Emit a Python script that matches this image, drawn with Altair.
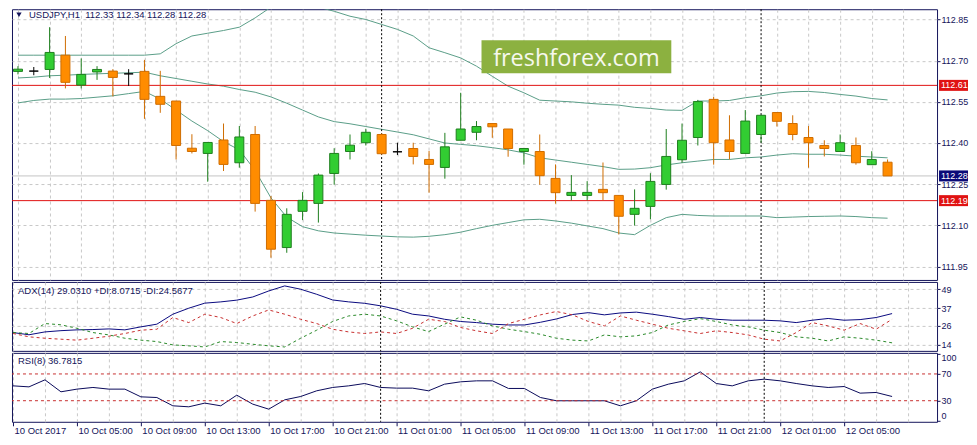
import altair as alt
import pandas as pd
import numpy as np

# ------------------------------------------------------------------ data
START = "2017-10-10 01:00"          # first H1 bar

opens = [112.661, 112.662, 112.668, 112.720, 112.611, 112.659, 112.662, 112.652, 112.661, 112.570,
         112.553, 112.381, 112.362, 112.411, 112.328, 112.431, 112.191, 112.019, 112.151, 112.180,
         112.289, 112.369, 112.401, 112.431, 112.368, 112.380, 112.340, 112.311, 112.410, 112.439,
         112.471, 112.451, 112.369, 112.369, 112.271, 112.209, 112.209, 112.231, 112.209, 112.140,
         112.169, 112.249, 112.339, 112.420, 112.559, 112.411, 112.362, 112.431, 112.511, 112.471,
         112.420, 112.391, 112.369, 112.391, 112.321, 112.330]
highs = [112.680, 112.677, 112.822, 112.790, 112.708, 112.680, 112.669, 112.669, 112.703, 112.663,
         112.553, 112.432, 112.402, 112.471, 112.462, 112.462, 112.207, 112.162, 112.221, 112.289,
         112.381, 112.431, 112.452, 112.435, 112.401, 112.401, 112.371, 112.437, 112.583, 112.480,
         112.471, 112.451, 112.380, 112.431, 112.322, 112.283, 112.261, 112.329, 112.209, 112.231,
         112.290, 112.451, 112.471, 112.557, 112.568, 112.501, 112.520, 112.501, 112.511, 112.501,
         112.462, 112.410, 112.431, 112.420, 112.370, 112.340]
lows = [112.650, 112.647, 112.637, 112.599, 112.599, 112.630, 112.570, 112.608, 112.488, 112.510,
        112.340, 112.362, 112.259, 112.298, 112.310, 112.150, 111.982, 112.000, 112.119, 112.110,
        112.248, 112.340, 112.391, 112.358, 112.356, 112.322, 112.219, 112.270, 112.410, 112.410,
        112.419, 112.350, 112.321, 112.248, 112.179, 112.191, 112.191, 112.191, 112.067, 112.099,
        112.122, 112.230, 112.328, 112.391, 112.321, 112.340, 112.362, 112.401, 112.460, 112.410,
        112.310, 112.351, 112.369, 112.321, 112.321, 112.280]
closes = [112.669, 112.662, 112.730, 112.621, 112.650, 112.668, 112.639, 112.652, 112.559, 112.541,
          112.391, 112.369, 112.402, 112.322, 112.422, 112.180, 112.013, 112.140, 112.191, 112.283,
          112.362, 112.392, 112.439, 112.361, 112.368, 112.351, 112.322, 112.386, 112.451, 112.460,
          112.459, 112.380, 112.380, 112.281, 112.219, 112.220, 112.220, 112.219, 112.133, 112.162,
          112.260, 112.351, 112.410, 112.551, 112.401, 112.369, 112.480, 112.501, 112.479, 112.431,
          112.401, 112.380, 112.401, 112.328, 112.340, 112.280]

bb_upper = [112.72, 112.72, 112.72, 112.72, 112.72, 112.72, 112.72, 112.72, 112.72, 112.725,
            112.762, 112.79, 112.80, 112.81, 112.822, 112.856, 112.895, 112.915, 112.91, 112.895,
            112.88, 112.862, 112.85, 112.832, 112.814, 112.79, 112.747, 112.729, 112.71, 112.68,
            112.643, 112.607, 112.583, 112.556, 112.553, 112.55, 112.545, 112.541, 112.538, 112.53,
            112.526, 112.52, 112.519, 112.553, 112.553, 112.555, 112.565, 112.572, 112.582, 112.587,
            112.588, 112.584, 112.577, 112.571, 112.562, 112.557]
bb_middle = [112.637, 112.64, 112.645, 112.647, 112.65, 112.652, 112.654, 112.656, 112.658, 112.645,
             112.635, 112.625, 112.615, 112.607, 112.595, 112.585, 112.568, 112.545, 112.52, 112.495,
             112.478, 112.47, 112.46, 112.45, 112.44, 112.43, 112.415, 112.40, 112.395, 112.39,
             112.383, 112.375, 112.364, 112.346, 112.338, 112.33, 112.322, 112.314, 112.304, 112.305,
             112.31, 112.32, 112.328, 112.334, 112.34, 112.34, 112.346, 112.349, 112.356, 112.361,
             112.359, 112.359, 112.356, 112.352, 112.349, 112.346]
bb_lower = [112.546, 112.555, 112.56, 112.56, 112.562, 112.567, 112.572, 112.58, 112.588, 112.56,
            112.52, 112.48, 112.445, 112.405, 112.375, 112.30, 112.20, 112.13, 112.095, 112.08,
            112.072, 112.068, 112.064, 112.061, 112.058, 112.057, 112.06, 112.066, 112.075, 112.088,
            112.10, 112.11, 112.12, 112.122, 112.116, 112.108, 112.098, 112.088, 112.072, 112.066,
            112.10, 112.128, 112.14, 112.136, 112.134, 112.134, 112.134, 112.134, 112.128, 112.13,
            112.132, 112.133, 112.134, 112.132, 112.128, 112.126]

adx_main = [21.6, 20.2, 22.0, 22.8, 23.3, 23.5, 23.9, 23.3, 25.2, 26.9,
            33.2, 37.0, 40.2, 41.0, 42.1, 44.1, 47.9, 51.1, 49.0, 45.8,
            42.2, 41.0, 40.1, 38.5, 36.3, 33.2, 32.1, 30.0, 28.6, 27.9,
            26.9, 26.4, 26.4, 28.1, 30.2, 33.0, 34.2, 32.8, 34.0, 34.5,
            33.2, 31.7, 30.0, 31.1, 30.0, 29.4, 29.4, 29.4, 29.0, 27.9,
            29.4, 30.5, 29.4, 29.8, 31.1, 33.6]
plus_di = [21.6, 21.0, 27.3, 26.5, 24.3, 21.6, 20.1, 18.0, 16.8, 15.9,
           13.8, 13.2, 12.5, 15.9, 15.3, 14.2, 13.2, 12.5, 18.0, 23.1,
           28.6, 32.1, 33.2, 32.1, 29.0, 25.2, 22.2, 26.9, 31.5, 29.4,
           25.8, 23.7, 22.2, 20.5, 18.0, 16.8, 16.3, 20.1, 18.9, 19.5,
           21.6, 26.4, 28.6, 30.4, 28.6, 26.4, 25.2, 23.1, 21.6, 18.9,
           18.0, 16.3, 18.9, 18.0, 16.8, 15.1]
minus_di = [21.0, 18.9, 18.0, 17.4, 16.8, 18.0, 19.3, 21.0, 23.1, 23.7,
            31.1, 27.9, 33.2, 31.1, 27.3, 32.1, 35.9, 33.2, 30.0, 27.3,
            23.7, 22.0, 21.0, 22.0, 21.0, 24.3, 30.0, 28.6, 24.8, 22.7,
            21.0, 27.3, 30.0, 32.8, 34.9, 32.8, 28.6, 25.8, 32.1, 29.4,
            26.9, 24.3, 22.7, 21.0, 22.7, 21.6, 20.1, 17.4, 16.3, 21.6,
            27.9, 25.8, 23.1, 27.3, 23.7, 30.0]
rsi_vals = [52.2, 50.7, 61.2, 43.3, 47.3, 49.8, 47.3, 47.3, 35.8, 34.8,
            22.4, 20.9, 26.4, 22.4, 38.3, 24.9, 17.4, 31.3, 36.3, 44.8,
            49.8, 52.2, 55.7, 49.8, 48.8, 48.8, 44.8, 54.7, 58.2, 59.7,
            59.7, 48.3, 48.3, 34.8, 29.9, 29.9, 29.9, 29.9, 22.4, 29.9,
            47.3, 54.7, 59.7, 73.1, 55.7, 52.2, 59.7, 62.2, 59.7, 55.7,
            52.2, 49.8, 51.2, 41.3, 42.3, 36.3]

level_prices = [112.61, 112.19]
rsi_levels = [30, 70]
day_starts = ["2017-10-11T00:00:00Z", "2017-10-12T00:00:00Z"]
price_ticks = [111.95, 112.10, 112.25, 112.40, 112.55, 112.70, 112.85]
adx_ticks = [14, 26, 37, 49]
rsi_ticks = [0, 30, 70, 100]

symbol = "USDJPY,H1"
adx_header = "ADX(14) 29.0310 +DI:8.0715 -DI:24.5677"
rsi_header = "RSI(8) 36.7815"
watermark = "freshforex.com"

# ------------------------------------------------------------------ tables
times = pd.date_range(START, periods=len(opens), freq="h", tz="UTC")
H = 3600 * 1000
def ms(ts):
    return int(ts.timestamp() * 1000)
t0 = ms(times[0])
tlast = ms(times[-1])

df = pd.DataFrame({
    "t": times.strftime("%Y-%m-%dT%H:%M:%SZ"),
    "open": opens, "high": highs, "low": lows, "close": closes,
    "upper": bb_upper, "middle": bb_middle, "lower": bb_lower,
    "adx": adx_main, "pdi": plus_di, "mdi": minus_di, "rsi": rsi_vals,
})
o = np.array(opens); c = np.array(closes)
df["dir"] = np.where(c > o, "up", np.where(c < o, "down", "doji"))

levels_df = pd.DataFrame({"price": level_prices})
current_df = pd.DataFrame({"price": [closes[-1]]})
boxes_df = pd.DataFrame({
    "price": [level_prices[0], closes[-1], level_prices[1]],
    "kind": ["level", "current", "level"],
})
boxes_df["label"] = boxes_df["price"].map(lambda v: f"{v:.2f}")
days_df = pd.DataFrame({"t": day_starts})
rsi_lv_df = pd.DataFrame({"lvl": rsi_levels})

# ------------------------------------------------------------------ styling
NAVY = "#14145a"
RED = "#e01212"
FONT = "Liberation Sans"
W = 926
grid_vals = [t0 + 2 * k * H for k in range(29)]
xscale = alt.Scale(type="utc", domain=[t0 - 0.0625 * H, t0 + 57.8125 * H])
label_test = f"utchours(datum.value) % 4 == 1 && time(datum.value) <= {tlast}"

def xenc(field="t", bottom=False):
    if bottom:
        ax = alt.Axis(values=grid_vals, grid=True, domain=False, title=None,
                      labelExpr=(f"({label_test}) ? (time(datum.value) == {t0} ? "
                                 "utcFormat(datum.value, '%d %b %Y') : "
                                 "utcFormat(datum.value, '%d %b %H:%M')) : ''"),
                      tickOpacity={"condition": {"test": label_test, "value": 1}, "value": 0},
                      tickSize=4, labelAlign="left", labelBaseline="top", labelPadding=0,
                      labelOffset=1, labelOverlap=False, labelFlush=False, labelFontSize=9.5)
    else:
        ax = alt.Axis(values=grid_vals, grid=True, labels=False, ticks=False,
                      domain=False, title=None)
    return alt.X(f"{field}:T", scale=xscale, axis=ax)

dir_dom = ["up", "down", "doji"]
fill_scale = alt.Scale(domain=dir_dom, range=["#32cd32", "#ff8c00", "#000000"])
line_scale = alt.Scale(domain=dir_dom, range=["#1e7e1e", "#cf6c00", "#000000"])

def yaxis(ticks, fmt, grid=True, baseline="middle"):
    return alt.Axis(orient="right", values=ticks, format=fmt, grid=grid, tickSize=3,
                    labelPadding=1, domain=False, title=None, zindex=0,
                    labelOverlap=False, labelFlush=False, labelBaseline=baseline)

yprice = alt.Scale(domain=[111.901, 112.8875], nice=False, zero=False)
ax_price = yaxis(price_ticks, ".2f")
def yp(field):
    return alt.Y(f"{field}:Q", scale=yprice, axis=ax_price)

# ------------------------------------------------------------------ main panel
base = alt.Chart(df)

cur_line = alt.Chart(current_df).mark_rule(color="#c4c4c4", strokeWidth=1).encode(
    y=yp("price"))
lvl_lines = alt.Chart(levels_df).mark_rule(stroke=RED, strokeWidth=1, opacity=1).encode(
    y=yp("price"))
bands = base.transform_fold(["upper", "middle", "lower"], as_=["band", "val"]).mark_line(
    clip=True, color="#5a9e88", strokeWidth=1).encode(
    x=xenc(), y=yp("val"), detail="band:N")
days_main = alt.Chart(days_df).mark_rule(color="#000000", strokeDash=[2, 2]).encode(
    x=xenc())
wicks = base.mark_rule(clip=True, strokeWidth=1).encode(
    x=xenc(), y=yp("low"), y2="high:Q",
    stroke=alt.Stroke("dir:N", scale=line_scale, legend=None))
bodies = base.mark_bar(size=9, clip=True, strokeWidth=1).encode(
    x=xenc(), y=yp("open"), y2="close:Q",
    fill=alt.Fill("dir:N", scale=fill_scale, legend=None),
    stroke=alt.Stroke("dir:N", scale=line_scale, legend=None))

wm_df = pd.DataFrame({"w": [watermark]})
wm_box = alt.Chart(wm_df).mark_rect(color="#8cb140").encode(
    x=alt.value(470), x2=alt.value(660), y=alt.value(31), y2=alt.value(64))
wm_text = alt.Chart(wm_df).mark_text(font="Open Sans", fontSize=23.5, color="#f6f8ee",
                                     align="center", baseline="alphabetic").encode(
    x=alt.value(565), y=alt.value(57), text="w:N")

hdr_df = pd.DataFrame({"h": [f"{symbol}\u00a0 {opens[-1]:.2f} {highs[-1]:.2f} "
                              f"{lows[-1]:.2f} {closes[-1]:.2f}"]})
hdr_tri = alt.Chart(hdr_df).mark_point(shape="triangle-down", filled=True, size=28,
                                       color=NAVY, opacity=1).encode(
    x=alt.value(7), y=alt.value(5.5))
hdr_text = alt.Chart(hdr_df).mark_text(font=FONT, fontSize=9.5, color=NAVY,
                                       align="left", baseline="middle").encode(
    x=alt.value(17), y=alt.value(5.5), text="h:N")

box_bg = alt.Chart(boxes_df).mark_rect(yOffset=-5.5, y2Offset=5.5).encode(
    y=yp("price"), y2="price:Q", x=alt.value(W + 2), x2=alt.value(W + 31),
    color=alt.Color("kind:N", scale=alt.Scale(domain=["level", "current"],
                                               range=[RED, "#0a0a78"]), legend=None))
box_txt = alt.Chart(boxes_df).mark_text(font=FONT, fontSize=9, color="white",
                                        align="left", baseline="middle").encode(
    y=yp("price"), x=alt.value(W + 4), text="label:N")

main = alt.layer(cur_line, bands, lvl_lines, days_main, wicks, bodies,
                 wm_box, wm_text, hdr_tri, hdr_text, box_bg, box_txt).properties(
    width=W, height=271)

# ------------------------------------------------------------------ ADX panel
yadx = alt.Scale(domain=[10.02, 53.61], nice=False, zero=False)
ax_adx = yaxis(adx_ticks, "d")
def ya(field):
    return alt.Y(f"{field}:Q", scale=yadx, axis=ax_adx)

adx_b = alt.Chart(df)
adx_line = adx_b.mark_line(clip=True, color="#0a0a80", strokeWidth=1).encode(
    x=xenc(), y=ya("adx"))
pdi_line = adx_b.mark_line(clip=True, color="#2a8a2a", strokeWidth=1,
                           strokeDash=[3, 3]).encode(x=xenc(), y=ya("pdi"))
mdi_line = adx_b.mark_line(clip=True, color="#c83030", strokeWidth=1,
                           strokeDash=[3, 3]).encode(x=xenc(), y=ya("mdi"))
days_adx = alt.Chart(days_df).mark_rule(color="#000000", strokeDash=[2, 2]).encode(
    x=xenc())
adx_hdr = alt.Chart(pd.DataFrame({"h": [adx_header]})).mark_text(
    font=FONT, fontSize=9.5, color=NAVY, align="left", baseline="middle").encode(
    x=alt.value(6), y=alt.value(9), text="h:N")
adx = alt.layer(adx_line, pdi_line, mdi_line, days_adx, adx_hdr).properties(
    width=W, height=69)

# ------------------------------------------------------------------ RSI panel
yrsi = alt.Scale(domain=[-1.5, 101.5], nice=False, zero=False)
rsi_baseline = {"condition": [{"test": "datum.value >= 100", "value": "top"},
                              {"test": "datum.value <= 0", "value": "bottom"}],
                "value": "middle"}
ax_rsi = yaxis(rsi_ticks, "d", grid=False, baseline=rsi_baseline)
def yr(field):
    return alt.Y(f"{field}:Q", scale=yrsi, axis=ax_rsi)

rsi_line = alt.Chart(df).mark_line(clip=True, color="#0a0a5a", strokeWidth=1).encode(
    x=xenc(bottom=True), y=yr("rsi"))
rsi_lv = alt.Chart(rsi_lv_df).mark_rule(color="#c83030", strokeDash=[3, 3]).encode(
    y=yr("lvl"))
days_rsi = alt.Chart(days_df).mark_rule(color="#000000", strokeDash=[2, 2]).encode(
    x=xenc(bottom=True))
rsi_hdr = alt.Chart(pd.DataFrame({"h": [rsi_header]})).mark_text(
    font=FONT, fontSize=9.5, color=NAVY, align="left", baseline="middle").encode(
    x=alt.value(6), y=alt.value(8), text="h:N")
rsi = alt.layer(rsi_line, rsi_lv, days_rsi, rsi_hdr).properties(width=W, height=69)

# ------------------------------------------------------------------ assemble
chart = alt.vconcat(main, adx, rsi, spacing=0).properties(
    padding={"left": 3, "top": 0, "right": 0, "bottom": 0},
    background="white",
).configure_view(
    stroke=NAVY, strokeWidth=1
).configure_axis(
    labelFont=FONT, labelFontSize=9, labelColor=NAVY, tickColor=NAVY,
    gridColor="#c8c8c8", gridDash=[3, 3], gridWidth=1, domain=False,
    labelOverlap=False
)

chart.save("out.html", embed_options={"renderer": "svg", "actions": False})
